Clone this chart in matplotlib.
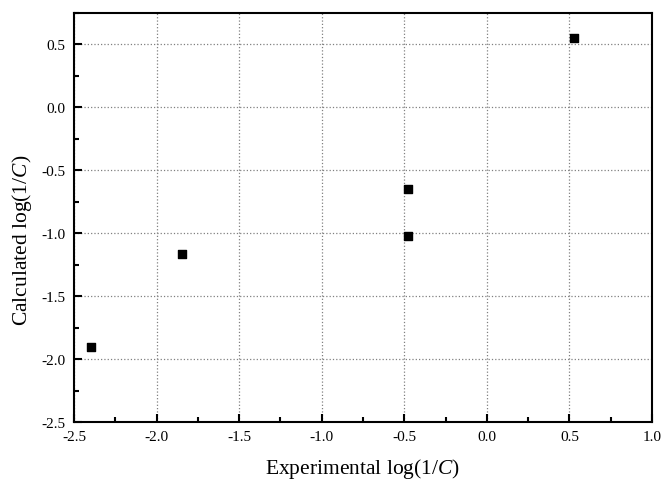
import numpy as np
import matplotlib.pyplot as plt
from matplotlib.ticker import MultipleLocator

plt.rcParams['font.family'] = ['Liberation Serif', 'DejaVu Serif']
plt.rcParams['mathtext.fontset'] = 'custom'
plt.rcParams['mathtext.rm'] = 'Liberation Serif'
plt.rcParams['mathtext.it'] = 'Liberation Serif:italic'

# experimental vs calculated log(1/C)
experimental = [-2.40, -1.845, -0.475, -0.475, 0.525]
calculated = [-1.905, -1.165, -0.645, -1.025, 0.555]

fig = plt.figure(figsize=(6.65, 4.81), dpi=100)
ax = fig.add_axes([0.1113, 0.1206, 0.8692, 0.8503])

ax.scatter(experimental, calculated, marker='s', s=38, color='black', zorder=3)

ax.set_xlim(-2.5, 1.0)
ax.set_ylim(-2.5, 0.75)
ax.xaxis.set_major_locator(MultipleLocator(0.5))
ax.xaxis.set_minor_locator(MultipleLocator(0.25))
ax.yaxis.set_major_locator(MultipleLocator(0.5))
ax.yaxis.set_minor_locator(MultipleLocator(0.25))
ax.xaxis.set_major_formatter(plt.FormatStrFormatter('%.1f'))
ax.yaxis.set_major_formatter(plt.FormatStrFormatter('%.1f'))
ax.tick_params(which='both', direction='in', width=1.5, labelsize=11)
ax.tick_params(which='major', length=6, pad=6)
ax.tick_params(which='minor', length=3.5)

ax.grid(True, which='major', linestyle=':', color='gray', linewidth=0.9)
for s in ax.spines.values():
    s.set_linewidth(1.5)

ax.set_xlabel('Experimental log(1/$\\mathit{C}$)', fontsize=15.5)
ax.set_ylabel('Calculated log(1/$\\mathit{C}$)', fontsize=15.5)
ax.xaxis.set_label_coords(0.5, -0.083)
ax.yaxis.set_label_coords(-0.07, 0.447)

fig.savefig('out.png', dpi=100)
